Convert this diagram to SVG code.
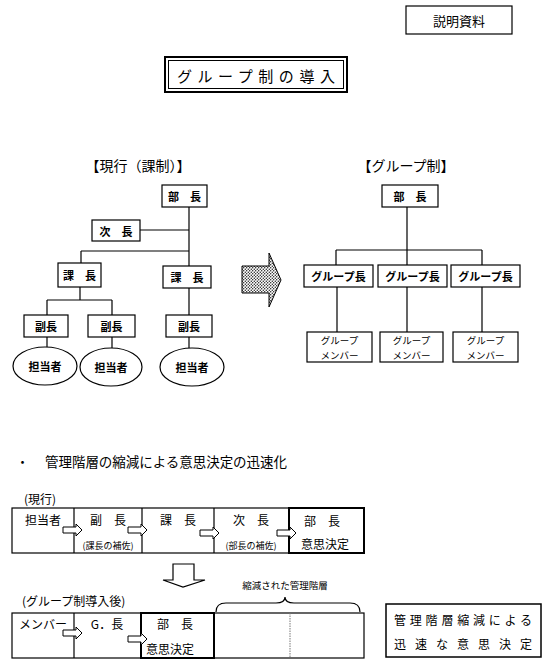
<svg xmlns="http://www.w3.org/2000/svg" xmlns:xlink="http://www.w3.org/1999/xlink" width="550" height="665" viewBox="0 0 550 665">
<style>
text{font-family:"Noto Sans CJK JP","Noto Sans CJK SC",sans-serif;fill:#000}
.c{text-anchor:middle;dominant-baseline:central}
.b{font-weight:bold}
.s11{font-size:11px}
.s12{font-size:12px}
.s10{font-size:9.5px}
.s9{font-size:9px}
.box{fill:#fff;stroke:#000;stroke-width:1.2}
.thick{fill:none;stroke:#000;stroke-width:2}
.ln{fill:none;stroke:#000;stroke-width:1.2}
.ha{fill:#fff;stroke:#000;stroke-width:1}
</style>
<defs>
<pattern id="dots" width="3" height="3" patternUnits="userSpaceOnUse">
<rect width="3" height="3" fill="#fff"/>
<circle cx="0.75" cy="0.75" r="0.65" fill="#000"/>
<circle cx="2.25" cy="2.25" r="0.65" fill="#000"/>
</pattern>
<path id="ha" d="M0,-3 H13 V-6 L19,0 L13,6 V3 H0 Z"/>
</defs>
<rect width="550" height="665" fill="#fff"/>

<g id="doc-label">
<rect x="406" y="6" width="106" height="28" class="box"/>
<text x="459" y="20" class="c" font-size="13">説明資料</text>
</g>

<g id="title">
<rect x="165" y="57" width="182" height="35" fill="#fff" stroke="#000" stroke-width="2"/>
<rect x="168.5" y="60.5" width="175" height="28" fill="none" stroke="#000" stroke-width="1"/>
<text x="177" y="75" font-size="15" dominant-baseline="central" textLength="158" lengthAdjust="spacing">グループ制の導入</text>
</g>

<text x="138" y="165" class="c" font-size="14">【現行（課制）】</text>
<text x="406" y="165" class="c" font-size="14">【グループ制】</text>

<g id="connectors">
<path class="ln" d="M189,207 V266 M140,230 H189 M81,251 H189 M81,251 V263 M80,287 V300 M47,300 H112 M47,300 V315 M112,300 V315 M189,288 V315 M47,337 V347 M112,337 V348 M189,337 V348"/>
<path class="ln" d="M407,207 V250 M336,250 H482 M336,250 V265 M407,250 V265 M482,250 V265 M337,287 V332 M407,287 V332 M482,287 V332"/>
</g>

<g id="cur-bucho"><rect x="162" y="185" width="45" height="22" class="box"/><text x="184.5" y="196" class="c b s11">部　長</text></g>
<g id="cur-jicho"><rect x="92" y="220" width="48" height="21" class="box"/><text x="116" y="230.5" class="c b s11">次　長</text></g>
<g id="cur-kacho1"><rect x="58" y="263" width="43" height="24" class="box"/><text x="79.5" y="275" class="c b s11">課　長</text></g>
<g id="cur-kacho2"><rect x="163" y="266" width="48" height="22" class="box"/><text x="187" y="277" class="c b s11">課　長</text></g>
<g id="cur-fuku1"><rect x="24" y="315" width="44" height="22" class="box"/><text x="46" y="326" class="c b s11">副長</text></g>
<g id="cur-fuku2"><rect x="88" y="315" width="47" height="22" class="box"/><text x="111.5" y="326" class="c b s11">副長</text></g>
<g id="cur-fuku3"><rect x="166" y="315" width="46" height="22" class="box"/><text x="189" y="326" class="c b s11">副長</text></g>
<g id="cur-tanto1"><ellipse cx="45" cy="366" rx="32" ry="19" class="box"/><text x="45" y="366" class="c b s11">担当者</text></g>
<g id="cur-tanto2"><ellipse cx="111" cy="367" rx="31" ry="19" class="box"/><text x="111" y="367" class="c b s11">担当者</text></g>
<g id="cur-tanto3"><ellipse cx="192" cy="367" rx="32" ry="19" class="box"/><text x="192" y="367" class="c b s11">担当者</text></g>

<g id="shift-arrow">
<polygon points="242,266 269,266 269,253 281,280 269,307 269,293 242,293" fill="url(#dots)" stroke="#000" stroke-width="1"/>
</g>

<g id="grp-bucho"><rect x="382" y="185" width="56" height="22" class="box"/><text x="410" y="196" class="c b s11">部　長</text></g>
<g id="grp-head1"><rect x="304" y="265" width="69" height="22" class="box"/><text x="338.5" y="276" class="c b s11">グループ長</text></g>
<g id="grp-head2"><rect x="378" y="265" width="69" height="22" class="box"/><text x="412.5" y="276" class="c b s11">グループ長</text></g>
<g id="grp-head3"><rect x="451" y="265" width="69" height="22" class="box"/><text x="485.5" y="276" class="c b s11">グループ長</text></g>
<g id="grp-mem1"><rect x="307" y="332" width="65" height="30" class="box"/><text x="339.5" y="340" class="c s10">グループ</text><text x="339.5" y="354.5" class="c s10">メンバー</text></g>
<g id="grp-mem2"><rect x="380" y="332" width="63" height="30" class="box"/><text x="411.5" y="340" class="c s10">グループ</text><text x="411.5" y="354.5" class="c s10">メンバー</text></g>
<g id="grp-mem3"><rect x="453" y="332" width="65" height="30" class="box"/><text x="485.5" y="340" class="c s10">グループ</text><text x="485.5" y="354.5" class="c s10">メンバー</text></g>

<g id="bullet">
<text x="16" y="461" font-size="13" dominant-baseline="central">・</text>
<text x="45" y="461" font-size="13.5" dominant-baseline="central" textLength="242" lengthAdjust="spacing">管理階層の縮減による意思決定の迅速化</text>
</g>

<g id="flow-current">
<text x="24" y="498" class="s12" dominant-baseline="central">(現行)</text>
<rect x="12" y="508" width="277" height="45" class="box" stroke-width="1"/>
<path class="ln" stroke-width="1" d="M74,508 V553 M142,508 V553 M214,508 V553"/>
<rect x="289" y="508" width="75" height="45" class="thick" fill="#fff"/>
<text x="43" y="519" class="c s12">担当者</text>
<text x="108" y="519" class="c s12">副　長</text>
<text x="178" y="519" class="c s12">課　長</text>
<text x="251" y="519" class="c s12">次　長</text>
<text x="108" y="545" class="c s9">(課長の補佐)</text>
<text x="251" y="545" class="c s9">(部長の補佐)</text>
<text x="322" y="520" class="c s12">部　長</text>
<text x="325" y="543" class="c s12">意思決定</text>
<use xlink:href="#ha" x="63" y="530" class="ha"/>
<use xlink:href="#ha" x="128" y="530" class="ha"/>
<use xlink:href="#ha" x="200" y="533" class="ha"/>
<use xlink:href="#ha" x="277" y="533" class="ha"/>
</g>

<g id="down-arrow">
<polygon points="173,564 194,564 194,580 205,580 183,587 163,580 173,580" fill="#fff" stroke="#000" stroke-width="1.2"/>
</g>

<g id="flow-group">
<text x="22" y="600" class="s12" dominant-baseline="central">(グループ制導入後)</text>
<rect x="12" y="613" width="352" height="45" class="box" stroke-width="1"/>
<path class="ln" stroke-width="1" d="M74,613 V658"/>
<path fill="none" stroke="#777" stroke-width="1" stroke-dasharray="1.5,1" d="M290,613 V658"/>
<rect x="141" y="613" width="73" height="45" class="thick"/>
<text x="43" y="623" class="c s12">メンバー</text>
<text x="107" y="623" class="c s12">G．長</text>
<text x="175" y="623" class="c s12">部　長</text>
<text x="170" y="648" class="c s12">意思決定</text>
<use xlink:href="#ha" x="63" y="633" class="ha"/>
<use xlink:href="#ha" x="128" y="639" class="ha"/>
<path class="ln" stroke-width="1" d="M216,612 Q216,603 226,603 H276 Q285,603 285,597 Q285,603 294,603 H350 Q360,603 360,612"/>
<text x="285" y="585" class="c s10">縮減された管理階層</text>
</g>

<g id="summary">
<rect x="386" y="604" width="155" height="53" fill="#fff" stroke="#000" stroke-width="1.5"/>
<text x="394" y="619" font-size="12" dominant-baseline="central" textLength="138" lengthAdjust="spacing">管理階層縮減による</text>
<text x="394" y="643" font-size="12" dominant-baseline="central" textLength="138" lengthAdjust="spacing">迅速な意思決定</text>
</g>
</svg>
